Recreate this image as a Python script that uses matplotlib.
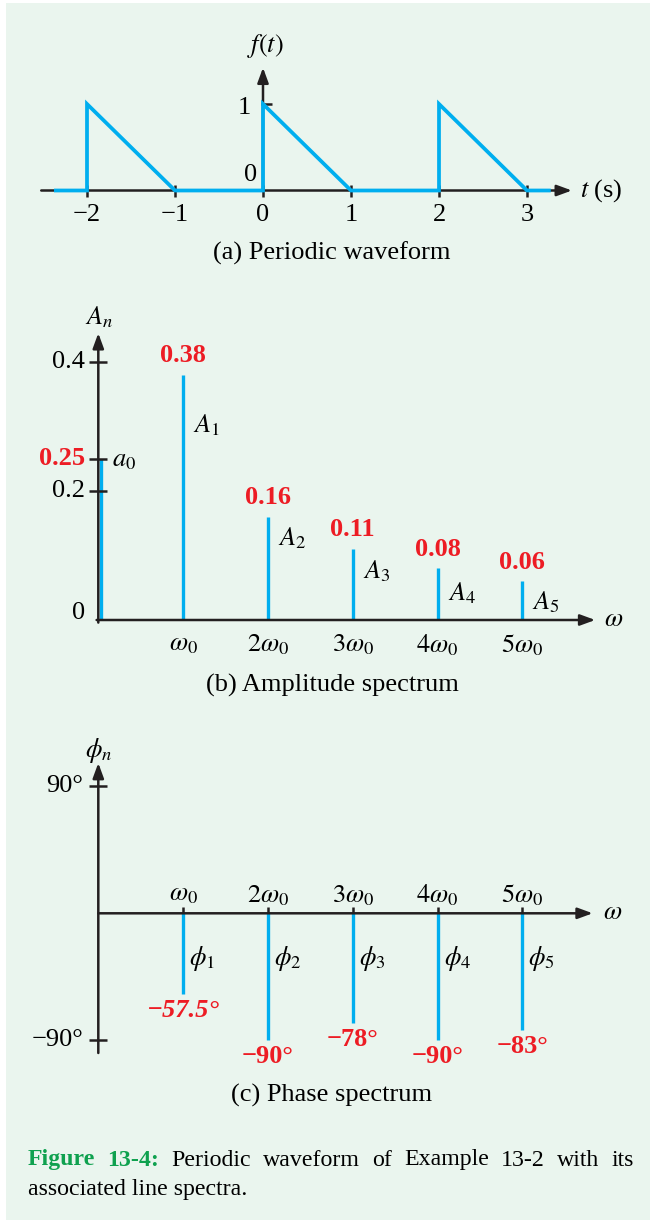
import matplotlib
matplotlib.use('Agg')
import matplotlib.pyplot as plt
from matplotlib.patches import Rectangle
from matplotlib.transforms import offset_copy

# ---------------- data ----------------
t_wave = [-2.375, -2, -2, -1, 0, 0, 1, 2, 2, 3, 3.27]
f_wave = [0, 0, 1, 0, 0, 1, 0, 0, 1, 0, 0]
t_ticks = [-2, -1, 0, 1, 2, 3]
t_tick_labels = ['\u22122', '\u22121', '0', '1', '2', '3']

harmonics = [0, 1, 2, 3, 4, 5]
amplitudes = [0.25, 0.38, 0.16, 0.11, 0.08, 0.06]
amp_value_labels = ['0.25', '0.38', '0.16', '0.11', '0.08', '0.06']
amp_names = [r'$a_0$', r'$A_1$', r'$A_2$', r'$A_3$', r'$A_4$', r'$A_5$']
amp_yticks = [0.2, 0.4]
amp_ytick_labels = ['0.2', '0.4']

omega_n = [1, 2, 3, 4, 5]
omega_labels = [r'$\omega_0$', r'$2\omega_0$', r'$3\omega_0$', r'$4\omega_0$', r'$5\omega_0$']

phases = [-57.5, -90, -78, -90, -83]
phase_value_labels = ['\u221257.5\u00b0', '\u221290\u00b0', '\u221278\u00b0', '\u221290\u00b0', '\u221283\u00b0']
phase_names = [r'$\phi_1$', r'$\phi_2$', r'$\phi_3$', r'$\phi_4$', r'$\phi_5$']
phase_yticks = [90, -90]
phase_ytick_labels = ['90\u00b0', '\u221290\u00b0']

# ---------------- style ----------------
BG = '#EAF5EE'
BLUE = '#00AEEF'
RED = '#ED1C24'
GREEN = '#0FA14F'
K = '#231F20'
FS = 19
plt.rcParams['font.family'] = ['Liberation Serif', 'DejaVu Serif']
plt.rcParams['mathtext.fontset'] = 'stix'

W, H = 650, 1220
fig = plt.figure(figsize=(W / 100, H / 100), dpi=100)
fig.patch.set_facecolor('white')
fig.add_artist(Rectangle((6 / W, 0), 1 - 6 / W, 1 - 3 / H, transform=fig.transFigure,
                         facecolor=BG, edgecolor='none', zorder=-10))


def panel(box, origin, scale):
    l, t, r, b = box
    ox, oy = origin
    sx, sy = scale
    ax = fig.add_axes([l / W, 1 - b / H, (r - l) / W, (b - t) / H])
    ax.set_xlim((l - ox) / sx, (r - ox) / sx)
    ax.set_ylim((oy - b) / sy, (oy - t) / sy)
    ax.axis('off')
    ax.patch.set_visible(False)
    return ax


def arrow(ax, start, end):
    ax.annotate('', xy=end, xytext=start,
                arrowprops=dict(arrowstyle='-|>,head_length=0.9,head_width=0.33',
                                mutation_scale=10, lw=1.8, color=K,
                                shrinkA=0, shrinkB=0),
                annotation_clip=False, zorder=3)


def label(ax, s, xy, dx=0, dy=0, ha='center', va='center', size=FS, **kw):
    ax.annotate(s, xy=xy, xytext=(dx, dy), textcoords='offset pixels',
                ha=ha, va=va, fontsize=size, annotation_clip=False, **kw)


def ftext(x, y, s, ha='center', va='center', size=FS, **kw):
    return fig.text(x / W, 1 - y / H, s, ha=ha, va=va, fontsize=size, **kw)


# ---------------- (a) periodic waveform ----------------
sxa, sya = 88, 86.5
axA = panel((10, 20, 645, 275), (263, 190.5), (sxa, sya))
arrow(axA, (-2.52, 0), (3.51, 0))
arrow(axA, (0, 0), (0, 1.42))
axA.plot(t_ticks, [0] * len(t_ticks), ls='none', marker='|', ms=8, mew=1.8, color=K, zorder=3)
axA.plot([-2 / sxa, 9 / sxa], [1, 1], color=K, lw=1.8, zorder=3, solid_capstyle='butt')
axA.plot(t_wave, f_wave, color=BLUE, lw=2.7, zorder=4,
         solid_joinstyle='miter', solid_capstyle='butt')
for t, s in zip(t_ticks, t_tick_labels):
    label(axA, s, (t, 0), dy=-24.5)
label(axA, '1', (0, 1), dx=-12, dy=-4, ha='right')
label(axA, '0', (0, 0), dx=-12, dy=15.5)
label(axA, r'$f(t)$', (0, 1.42), dx=2, dy=22)
label(axA, r'$t$ (s)', (3.51, 0), dx=8, dy=0, ha='left')
ftext(332, 253, '(a) Periodic waveform')

# ---------------- (b) amplitude spectrum ----------------
sxb, syb = 84.8, 646
axB = panel((10, 300, 645, 705), (98.3, 620), (sxb, syb))
A_LABEL_Y = [0.25, 0.302, 0.127, 0.075, 0.042, 0.028]
arrow(axB, (-0.02, 0), (5.86, 0))
arrow(axB, (0, -0.004), (0, 0.444))
shift = offset_copy(axB.transData, fig=fig, x=2.5, y=0, units='dots')
axB.vlines(harmonics[0], 0, amplitudes[0], color=BLUE, lw=2.4, zorder=2, transform=shift)
axB.vlines(harmonics[1:], 0, amplitudes[1:], color=BLUE, lw=2.4, zorder=2)
axB.plot([0] * 3, amp_yticks + [amplitudes[0]], ls='none', marker='_', ms=13, mew=1.8,
         color=K, zorder=4)
for v, s in zip(amp_yticks, amp_ytick_labels):
    label(axB, s, (0, v), dx=-13, ha='right')
label(axB, '0', (0, 0), dx=-13, dy=7, ha='right')
label(axB, amp_value_labels[0], (0, amplitudes[0]), dx=-13, ha='right',
      color=RED, fontweight='bold')
label(axB, amp_names[0], (0, A_LABEL_Y[0]), dx=14, dy=-3, ha='left')
for n, v, s, nm, ly in zip(harmonics[1:], amplitudes[1:], amp_value_labels[1:],
                           amp_names[1:], A_LABEL_Y[1:]):
    label(axB, s, (n, v), dy=19, color=RED, fontweight='bold')
    label(axB, nm, (n, ly), dx=10, ha='left')
for n, s in zip(omega_n, omega_labels):
    label(axB, s, (n, 0), dy=-25)
label(axB, r'$A_n$', (0, 0.444), dx=1, dy=16)
label(axB, r'$\omega$', (5.86, 0), dx=18)
ftext(332, 685, '(b) Amplitude spectrum')

# ---------------- (c) phase spectrum ----------------
sxc, syc = 84.8, 127 / 90
axC = panel((10, 730, 645, 1120), (98.3, 913.3), (sxc, syc))
PHI_LABEL_Y = -32
arrow(axC, (0, -99), (0, 106.5))
arrow(axC, (0, 0), (5.83, 0))
axC.plot(omega_n, [0] * len(omega_n), ls='none', marker='|', ms=9, mew=1.8, color=K, zorder=1)
axC.vlines(omega_n, 0, phases, color=BLUE, lw=2.4, zorder=2)
axC.plot([0] * 2, phase_yticks, ls='none', marker='_', ms=13, mew=1.8, color=K, zorder=4)
for v, s in zip(phase_yticks, phase_ytick_labels):
    label(axC, s, (0, v), dx=-15, ha='right')
for i, (n, v, s, nm) in enumerate(zip(omega_n, phases, phase_value_labels, phase_names)):
    label(axC, s, (n, v), dy=-16, color=RED, fontweight='bold',
          fontstyle='italic' if i == 0 else 'normal')
    label(axC, nm, (n, PHI_LABEL_Y), dx=6, ha='left')
for n, s in zip(omega_n, omega_labels):
    label(axC, s, (n, 0), dy=18)
label(axC, r'$\phi_n$', (0, 106.5), dx=0, dy=13)
label(axC, r'$\omega$', (5.83, 0), dx=20)
ftext(332, 1095, '(c) Phase spectrum')

# ---------------- figure caption (justified first line) ----------------
CFS = 17.2
line1 = [('Figure', True), ('13-4:', True), ('Periodic', False), ('waveform', False),
         ('of', False), ('Example', False), ('13-2', False), ('with', False), ('its', False)]
x_left, x_right = 28, 633.5
fig.canvas.draw()
renderer = fig.canvas.get_renderer()
texts = []
for w, b in line1:
    t = ftext(0, 1160, w, ha='left', size=CFS,
              color=GREEN if b else 'black', fontweight='bold' if b else 'normal')
    texts.append(t)
widths = [t.get_window_extent(renderer).width for t in texts]
gap = (x_right - x_left - sum(widths)) / (len(texts) - 1)
x = x_left
for t, wd in zip(texts, widths):
    t.set_x(x / W)
    x += wd + gap
ftext(x_left, 1190, 'associated line spectra.', ha='left', size=CFS)

fig.savefig('out.png', dpi=100, facecolor=fig.get_facecolor())
